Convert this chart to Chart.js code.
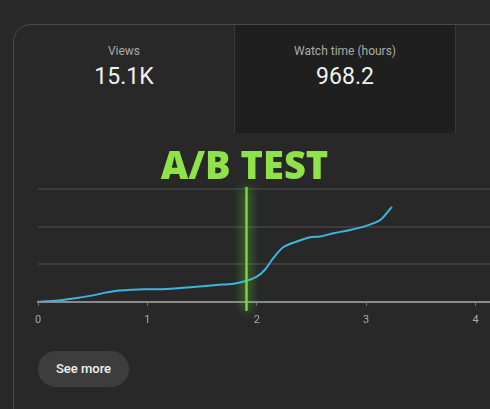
<!DOCTYPE html>
<html>
<head>
<meta charset="utf-8">
<script src="https://cdn.jsdelivr.net/npm/chart.js@4"></script>
<style>
  html, body { margin: 0; padding: 0; }
  body {
    width: 490px; height: 409px; overflow: hidden; position: relative;
    background: #282828; font-family: Roboto, 'Noto Sans', sans-serif;
  }
  .card {
    position: absolute; left: 13px; top: 24px; width: 620px; height: 400px;
    border: 1px solid #4a4a4a; border-radius: 18px; background: #282828;
    overflow: hidden;
  }
  .tile {
    position: absolute; top: 0; height: 108px; width: 221px; text-align: center;
    border-right: 1px solid #3a3a3a; box-sizing: border-box;
  }
  .tile .lbl { margin-top: 19px; font-size: 12px; color: #aaaaaa; }
  .tile .val { margin-top: 5px; font-size: 23px; color: #f1f1f1; }
  .t1 { left: 0; }
  .t2 { left: 221px; background: #1f1f1f; }
  .t3 { left: 443px; background: #282828; }
  #wrap { position: absolute; left: 0; top: 0; width: 600px; height: 409px; }
  .btn {
    position: absolute; left: 38px; top: 351px; width: 91px; height: 36px;
    border-radius: 18px; background: #3d3d3d; color: #f1f1f1;
    font-size: 13px; font-weight: 500; line-height: 36px; text-align: center;
  }
</style>
</head>
<body>
<div class="card">
  <div class="tile t1"><div class="lbl">Views</div><div class="val">15.1K</div></div>
  <div class="tile t2"><div class="lbl">Watch time (hours)</div><div class="val">968.2</div></div>
  <div class="tile t3"></div>
</div>
<div id="wrap"><canvas id="myChart" width="600" height="409"></canvas></div>
<div class="btn">See more</div>
<script>
// data
const xTicks = [0, 1, 2, 3, 4];
const dayX = [0, 0.155, 0.323, 0.476, 0.704, 0.963, 1.177, 1.421, 1.634, 1.787, 1.909, 2.0, 2.076, 2.152, 2.244, 2.366, 2.488, 2.579, 2.701, 2.854, 3.006, 3.128, 3.235];
const viewsY = [0, 2.6, 8.8, 15.8, 28.9, 33.3, 34.2, 39.5, 44.7, 48.2, 56.1, 66.7, 86, 116.7, 145.6, 160.5, 171.9, 173.7, 182.5, 191.2, 202.6, 217.5, 252.6];
const abTestX = 1.9;
const abTestLabel = 'A/B TEST';

const ctx = document.getElementById('myChart');

// green marker line with glow + label above the chart
const abMarker = {
  id: 'abMarker',
  afterDatasetsDraw(chart) {
    const {ctx, chartArea: {top, bottom}, scales: {x}} = chart;
    const px = Math.round(x.getPixelForValue(abTestX)) + 0.5;
    ctx.save();
    ctx.strokeStyle = '#72d83c';
    ctx.lineWidth = 2;
    ctx.shadowColor = 'rgba(110,220,60,0.9)';
    ctx.shadowBlur = 12;
    for (let i = 0; i < 2; i++) {
      ctx.beginPath();
      ctx.moveTo(px, top - 2);
      ctx.lineTo(px, bottom + 9);
      ctx.stroke();
    }
    ctx.shadowBlur = 0;
    ctx.fillStyle = '#8fe24a';
    ctx.font = '800 38px "Open Sans"';
    ctx.textAlign = 'center';
    ctx.textBaseline = 'alphabetic';
    ctx.fillText(abTestLabel, px - 2, top - 10);
    ctx.restore();
  }
};

let chart = new Chart(ctx, {
  type: 'line',
  data: {
    datasets: [{
      data: dayX.map((v, i) => ({x: v, y: viewsY[i]})),
      borderColor: '#3db5e3',
      borderWidth: 2,
      pointRadius: 0,
      tension: 0.3,
      fill: false,
    }]
  },
  options: {
    responsive: false,
    animation: false,
    devicePixelRatio: 1,
    layout: {
      padding: {left: 38, top: 189, right: 15, bottom: 74}
    },
    scales: {
      x: {
        type: 'linear',
        min: 0,
        max: 5,
        afterBuildTicks: axis => { axis.ticks = xTicks.map(v => ({value: v})); },
        grid: {
          drawOnChartArea: false,
          color: '#777777',
          tickLength: 4,
        },
        border: {
          color: '#8a8a8a',
          width: 2,
        },
        ticks: {
          color: '#aaaaaa',
          padding: 8,
          font: {size: 11, family: 'Roboto'},
        },
      },
      y: {
        min: 0,
        max: 300,
        ticks: {display: false, stepSize: 100},
        border: {display: false},
        grid: {
          color: '#3c3c3c',
          lineWidth: 2,
          drawTicks: false,
        },
      },
    },
    plugins: {
      legend: {display: false},
      tooltip: {enabled: false},
    }
  },
  plugins: [abMarker]
});
</script>
</body>
</html>
